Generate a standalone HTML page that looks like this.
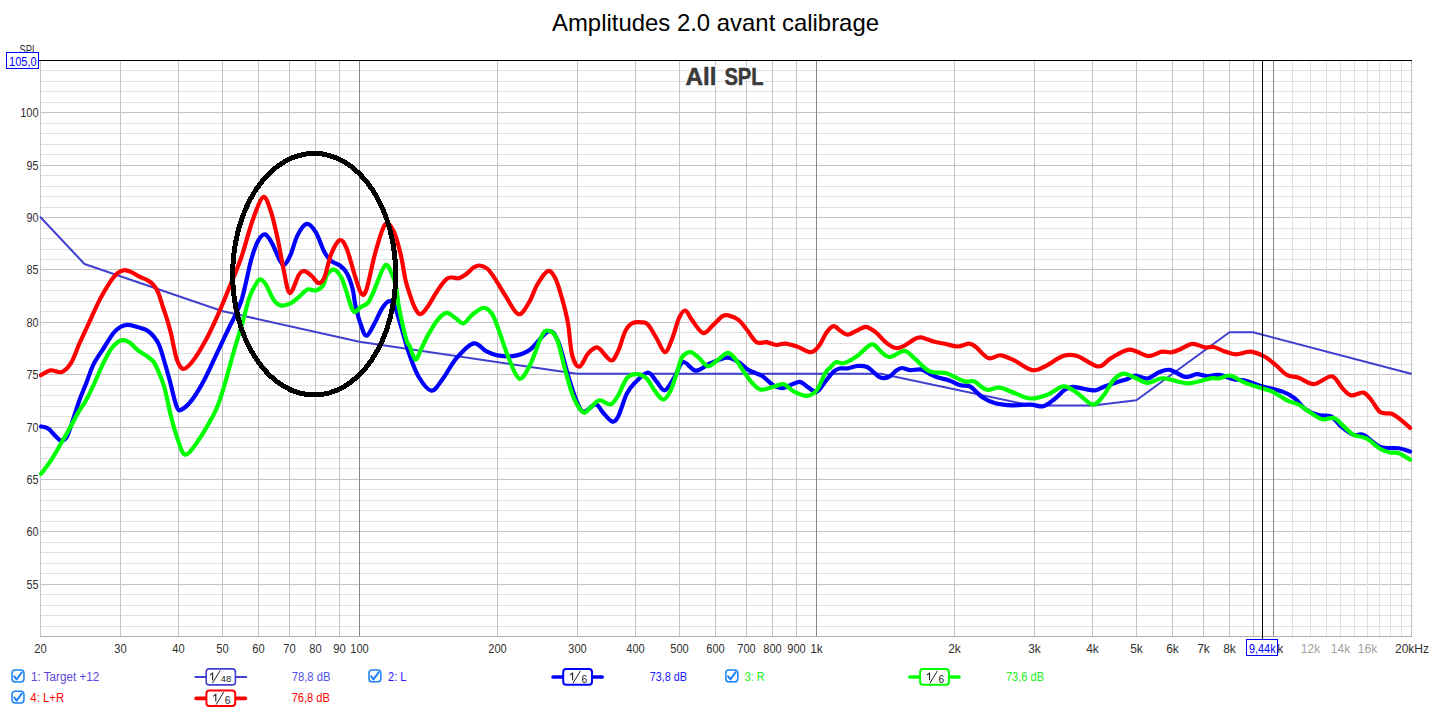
<!DOCTYPE html><html><head><meta charset="utf-8"><style>html,body{margin:0;padding:0;background:#fff;overflow:hidden}svg{display:block}text{font-family:"Liberation Sans",sans-serif}</style></head><body>
<svg width="1431" height="709" viewBox="0 0 1431 709">
<rect width="1431" height="709" fill="#fff"/>
<g stroke-width="1" fill="none" shape-rendering="crispEdges"><path d="M40,626.5H1411" stroke="#e0e0e0"/><path d="M40,615.5H1411" stroke="#e0e0e0"/><path d="M40,605.5H1411" stroke="#e0e0e0"/><path d="M40,594.5H1411" stroke="#e0e0e0"/><path d="M40,584.5H1411" stroke="#c4c4c4"/><path d="M40,573.5H1411" stroke="#e0e0e0"/><path d="M40,563.5H1411" stroke="#e0e0e0"/><path d="M40,552.5H1411" stroke="#e0e0e0"/><path d="M40,542.5H1411" stroke="#e0e0e0"/><path d="M40,531.5H1411" stroke="#c4c4c4"/><path d="M40,521.5H1411" stroke="#e0e0e0"/><path d="M40,510.5H1411" stroke="#e0e0e0"/><path d="M40,500.5H1411" stroke="#e0e0e0"/><path d="M40,489.5H1411" stroke="#e0e0e0"/><path d="M40,479.5H1411" stroke="#c4c4c4"/><path d="M40,468.5H1411" stroke="#e0e0e0"/><path d="M40,458.5H1411" stroke="#e0e0e0"/><path d="M40,447.5H1411" stroke="#e0e0e0"/><path d="M40,437.5H1411" stroke="#e0e0e0"/><path d="M40,427.5H1411" stroke="#c4c4c4"/><path d="M40,416.5H1411" stroke="#e0e0e0"/><path d="M40,406.5H1411" stroke="#e0e0e0"/><path d="M40,395.5H1411" stroke="#e0e0e0"/><path d="M40,385.5H1411" stroke="#e0e0e0"/><path d="M40,374.5H1411" stroke="#c4c4c4"/><path d="M40,364.5H1411" stroke="#e0e0e0"/><path d="M40,353.5H1411" stroke="#e0e0e0"/><path d="M40,343.5H1411" stroke="#e0e0e0"/><path d="M40,332.5H1411" stroke="#e0e0e0"/><path d="M40,322.5H1411" stroke="#c4c4c4"/><path d="M40,311.5H1411" stroke="#e0e0e0"/><path d="M40,301.5H1411" stroke="#e0e0e0"/><path d="M40,290.5H1411" stroke="#e0e0e0"/><path d="M40,280.5H1411" stroke="#e0e0e0"/><path d="M40,269.5H1411" stroke="#c4c4c4"/><path d="M40,259.5H1411" stroke="#e0e0e0"/><path d="M40,249.5H1411" stroke="#e0e0e0"/><path d="M40,238.5H1411" stroke="#e0e0e0"/><path d="M40,228.5H1411" stroke="#e0e0e0"/><path d="M40,217.5H1411" stroke="#c4c4c4"/><path d="M40,207.5H1411" stroke="#e0e0e0"/><path d="M40,196.5H1411" stroke="#e0e0e0"/><path d="M40,186.5H1411" stroke="#e0e0e0"/><path d="M40,175.5H1411" stroke="#e0e0e0"/><path d="M40,165.5H1411" stroke="#c4c4c4"/><path d="M40,154.5H1411" stroke="#e0e0e0"/><path d="M40,144.5H1411" stroke="#e0e0e0"/><path d="M40,133.5H1411" stroke="#e0e0e0"/><path d="M40,123.5H1411" stroke="#e0e0e0"/><path d="M40,112.5H1411" stroke="#c4c4c4"/><path d="M40,102.5H1411" stroke="#e0e0e0"/><path d="M40,91.5H1411" stroke="#e0e0e0"/><path d="M40,81.5H1411" stroke="#e0e0e0"/><path d="M40,70.5H1411" stroke="#e0e0e0"/></g>
<g stroke-width="1" fill="none" shape-rendering="crispEdges"><path d="M40.5,61V636" stroke="#c4c4c4"/><path d="M120.5,61V636" stroke="#c4c4c4"/><path d="M178.5,61V636" stroke="#c4c4c4"/><path d="M222.5,61V636" stroke="#c4c4c4"/><path d="M258.5,61V636" stroke="#c4c4c4"/><path d="M289.5,61V636" stroke="#c4c4c4"/><path d="M315.5,61V636" stroke="#c4c4c4"/><path d="M339.5,61V636" stroke="#c4c4c4"/><path d="M359.5,61V636" stroke="#888888"/><path d="M497.5,61V636" stroke="#c4c4c4"/><path d="M577.5,61V636" stroke="#c4c4c4"/><path d="M635.5,61V636" stroke="#c4c4c4"/><path d="M679.5,61V636" stroke="#c4c4c4"/><path d="M715.5,61V636" stroke="#c4c4c4"/><path d="M746.5,61V636" stroke="#c4c4c4"/><path d="M772.5,61V636" stroke="#c4c4c4"/><path d="M796.5,61V636" stroke="#c4c4c4"/><path d="M816.5,61V636" stroke="#888888"/><path d="M954.5,61V636" stroke="#c4c4c4"/><path d="M1034.5,61V636" stroke="#c4c4c4"/><path d="M1092.5,61V636" stroke="#c4c4c4"/><path d="M1136.5,61V636" stroke="#c4c4c4"/><path d="M1172.5,61V636" stroke="#c4c4c4"/><path d="M1203.5,61V636" stroke="#c4c4c4"/><path d="M1229.5,61V636" stroke="#c4c4c4"/><path d="M1253.5,61V636" stroke="#c4c4c4"/><path d="M1273.5,61V636" stroke="#888888"/><path d="M1292.5,61V636" stroke="#e0e0e0"/><path d="M1310.5,61V636" stroke="#e0e0e0"/><path d="M1326.5,61V636" stroke="#e0e0e0"/><path d="M1340.5,61V636" stroke="#e0e0e0"/><path d="M1354.5,61V636" stroke="#e0e0e0"/><path d="M1367.5,61V636" stroke="#e0e0e0"/><path d="M1379.5,61V636" stroke="#e0e0e0"/><path d="M1390.5,61V636" stroke="#e0e0e0"/><path d="M1401.5,61V636" stroke="#e0e0e0"/><path d="M1411.5,61V636" stroke="#c4c4c4"/></g>
<path d="M40,636.5H1412" stroke="#b0b0b0" stroke-width="1" shape-rendering="crispEdges"/>
<g fill="none" stroke-linejoin="round" stroke-linecap="round">
<path d="M40.5,217.3 L84.5,264.0 L222.0,311.0 L359.4,341.8 L577.0,373.8 L881.0,373.8 L1031.0,405.5 L1093.0,405.5 L1136.4,400.3 L1229.4,332.2 L1253.0,332.2 L1411.0,373.8" stroke="#4040d0" stroke-width="2"/>
<path d="M41.1,426.5 C41.9,426.7 44.6,427.0 46.0,427.5 C47.4,428.0 48.0,428.3 49.5,429.6 C51.0,430.9 53.2,433.7 55.0,435.5 C56.8,437.3 58.5,439.9 60.3,440.4 C62.1,440.9 64.1,440.7 65.9,438.3 C67.7,435.9 69.5,430.0 71.0,425.9 C72.5,421.8 73.6,417.8 75.0,413.5 C76.4,409.2 77.6,405.2 79.5,400.0 C81.4,394.8 84.2,388.4 86.5,382.5 C88.8,376.6 90.6,370.2 93.5,364.4 C96.4,358.6 100.8,352.7 104.1,347.5 C107.4,342.3 110.6,336.7 113.3,333.3 C116.0,329.9 117.9,328.4 120.3,327.0 C122.7,325.6 124.8,325.0 127.4,324.9 C130.0,324.8 132.7,325.7 135.9,326.6 C139.1,327.5 143.6,328.6 146.5,330.2 C149.4,331.8 151.4,333.7 153.5,336.2 C155.6,338.7 157.3,340.8 159.2,345.3 C161.1,349.8 163.1,357.2 164.8,363.0 C166.5,368.8 167.6,372.7 169.6,380.0 C171.6,387.3 174.7,401.8 176.7,406.7 C178.7,411.6 179.0,410.7 181.6,409.5 C184.2,408.3 188.3,404.7 192.2,399.6 C196.1,394.5 200.9,386.2 204.9,378.7 C208.9,371.2 212.2,363.2 216.2,354.8 C220.2,346.4 224.7,336.9 228.9,328.0 C233.1,319.1 237.5,312.4 241.2,301.2 C244.9,289.9 248.2,270.6 251.0,260.5 C253.8,250.4 255.8,245.2 258.1,240.8 C260.5,236.5 262.8,233.9 265.1,234.4 C267.5,234.9 269.9,239.5 272.2,243.6 C274.5,247.7 277.2,255.6 279.2,259.1 C281.2,262.6 282.3,265.5 284.2,264.8 C286.1,264.1 288.3,259.9 290.5,254.9 C292.7,249.9 294.9,240.3 297.6,235.1 C300.3,229.9 303.6,224.4 306.7,223.9 C309.8,223.4 312.9,227.6 315.9,232.3 C318.8,237.0 321.8,247.3 324.4,252.1 C327.0,256.9 328.8,259.0 331.4,261.2 C334.0,263.4 337.3,263.5 339.9,265.5 C342.5,267.5 344.8,269.3 346.9,273.2 C349.0,277.1 351.2,283.3 352.6,288.7 C354.0,294.1 354.0,299.3 355.4,305.4 C356.8,311.5 359.1,320.1 361.0,325.1 C362.9,330.2 364.3,336.2 366.7,335.7 C369.1,335.2 372.5,326.9 375.1,322.3 C377.7,317.7 379.8,311.7 382.2,308.2 C384.6,304.7 387.2,301.4 389.3,301.2 C391.4,301.0 392.8,302.1 394.9,306.8 C397.0,311.5 399.5,321.6 401.9,329.4 C404.2,337.1 406.2,345.4 409.0,353.3 C411.8,361.2 414.8,370.3 418.5,376.5 C422.2,382.7 427.2,390.1 431.2,390.6 C435.2,391.1 438.2,384.8 442.4,379.4 C446.6,374.0 451.3,364.2 456.5,358.2 C461.7,352.2 468.6,344.6 473.5,343.4 C478.4,342.2 482.2,349.2 486.2,351.2 C490.2,353.2 492.9,354.6 497.4,355.4 C501.9,356.2 507.6,357.1 513.0,356.1 C518.4,355.2 524.0,353.8 529.9,349.7 C535.8,345.6 543.5,332.8 548.2,331.4 C552.9,330.0 554.8,334.0 558.1,341.3 C561.4,348.6 565.0,365.2 568.0,375.1 C571.0,385.0 573.8,394.4 576.4,400.5 C579.0,406.6 580.3,411.2 583.5,411.8 C586.7,412.4 592.4,404.3 595.6,404.4 C598.8,404.5 600.0,409.4 602.7,412.2 C605.4,415.0 609.3,420.7 611.9,421.4 C614.5,422.1 615.7,421.0 618.2,416.4 C620.7,411.8 623.9,399.5 626.7,393.9 C629.5,388.3 631.6,386.1 635.1,382.6 C638.6,379.1 644.3,372.9 647.8,372.7 C651.3,372.5 653.5,378.3 656.3,381.2 C659.1,384.1 661.8,391.0 664.8,390.3 C667.8,389.6 671.5,381.6 674.6,376.9 C677.7,372.2 679.6,363.2 683.1,362.1 C686.6,361.1 691.3,370.4 695.8,370.6 C700.3,370.8 704.7,365.6 709.9,363.5 C715.1,361.4 722.2,358.0 726.9,357.7 C731.6,357.4 734.7,359.9 738.2,361.9 C741.7,363.9 744.1,367.3 748.1,369.7 C752.1,372.1 758.0,373.4 762.2,376.0 C766.4,378.6 770.1,383.4 773.4,385.4 C776.7,387.4 779.3,388.1 781.8,388.2 C784.3,388.3 785.5,387.1 788.5,386.0 C791.5,384.9 796.4,381.6 799.7,381.8 C803.0,382.0 805.4,385.8 808.2,387.4 C811.0,389.0 813.9,392.6 816.7,391.7 C819.5,390.8 822.2,385.2 825.1,381.8 C828.0,378.4 831.6,373.4 834.2,371.2 C836.8,369.0 838.3,368.9 840.5,368.4 C842.7,367.9 844.6,368.8 847.5,368.4 C850.4,368.0 854.8,366.1 858.0,365.9 C861.2,365.7 864.5,366.0 867.0,367.0 C869.5,368.0 871.3,370.3 873.3,371.9 C875.3,373.5 877.1,375.8 878.9,376.8 C880.6,377.9 881.9,378.3 883.8,378.2 C885.7,378.1 888.0,377.4 890.1,376.1 C892.2,374.8 894.4,371.9 896.4,370.5 C898.4,369.1 899.7,368.1 902.0,368.0 C904.3,367.9 907.3,369.9 910.4,370.1 C913.5,370.3 917.5,368.8 920.8,369.4 C924.1,370.0 927.1,372.6 930.0,374.0 C932.9,375.4 934.8,376.5 938.0,377.6 C941.2,378.7 945.5,379.1 949.3,380.4 C953.0,381.7 957.0,384.2 960.5,385.3 C964.0,386.4 966.7,384.6 970.4,386.7 C974.1,388.8 978.5,394.9 982.7,397.6 C986.9,400.4 990.5,401.9 995.4,403.2 C1000.3,404.5 1006.4,405.1 1012.3,405.3 C1018.2,405.5 1025.4,404.4 1030.6,404.6 C1035.8,404.8 1039.3,407.2 1043.3,406.3 C1047.3,405.4 1051.0,401.8 1054.6,399.0 C1058.2,396.2 1061.8,391.8 1064.8,389.8 C1067.8,387.8 1069.5,387.0 1072.6,386.8 C1075.7,386.6 1079.7,388.2 1083.4,388.8 C1087.2,389.4 1091.7,390.6 1095.1,390.3 C1098.5,390.0 1100.2,388.2 1103.9,386.8 C1107.7,385.4 1113.7,383.3 1117.6,382.0 C1121.5,380.7 1124.5,380.1 1127.4,379.0 C1130.3,377.9 1131.6,375.8 1135.0,375.7 C1138.4,375.6 1143.7,379.1 1147.7,378.5 C1151.7,377.9 1155.3,373.6 1159.0,372.2 C1162.7,370.8 1165.5,369.1 1169.9,369.9 C1174.3,370.7 1180.9,376.3 1185.4,377.0 C1189.9,377.7 1193.2,374.4 1196.7,374.2 C1200.2,374.0 1202.8,375.9 1206.5,376.0 C1210.2,376.1 1214.7,374.4 1219.2,374.9 C1223.7,375.4 1229.0,378.2 1233.3,379.1 C1237.6,380.1 1240.3,379.4 1245.1,380.6 C1249.9,381.8 1255.7,384.3 1262.0,386.2 C1268.3,388.1 1277.8,389.9 1283.2,391.9 C1288.6,393.9 1290.7,395.3 1294.5,398.2 C1298.3,401.1 1301.8,406.7 1305.8,409.5 C1309.8,412.3 1314.2,413.9 1318.4,415.1 C1322.6,416.3 1327.3,414.6 1331.1,416.5 C1334.9,418.4 1337.2,423.3 1341.0,426.4 C1344.8,429.5 1349.9,433.5 1353.7,434.9 C1357.5,436.3 1359.1,432.9 1363.6,434.9 C1368.1,436.9 1374.6,444.7 1380.5,446.9 C1386.4,449.1 1393.9,447.5 1398.8,448.3 C1403.7,449.1 1408.2,451.0 1410.1,451.5" stroke="#0000ff" stroke-width="4.2"/>
<path d="M41.1,473.8 C42.8,471.5 47.9,465.0 51.3,459.8 C54.7,454.6 58.2,448.2 61.4,442.8 C64.6,437.4 67.6,432.2 70.4,427.1 C73.2,422.0 75.7,416.9 78.3,412.4 C80.9,407.9 83.5,404.9 86.2,400.0 C88.9,395.1 91.8,388.9 94.5,383.0 C97.2,377.1 99.9,370.1 102.7,364.4 C105.5,358.7 108.6,352.7 111.2,348.9 C113.8,345.1 116.2,343.3 118.2,341.8 C120.2,340.3 121.3,340.0 123.2,340.1 C125.1,340.2 127.0,340.8 129.5,342.5 C132.0,344.2 135.2,348.1 138.0,350.3 C140.8,352.5 143.9,354.0 146.5,355.9 C149.1,357.8 151.6,359.2 153.5,361.6 C155.4,364.0 156.7,367.6 158.0,370.5 C159.3,373.4 160.4,375.8 161.6,379.2 C162.8,382.6 163.8,385.0 165.4,391.2 C167.0,397.4 168.9,408.3 171.0,416.5 C173.1,424.7 175.8,434.1 178.1,440.5 C180.4,446.9 182.0,454.1 185.1,454.6 C188.2,455.1 191.7,449.9 196.4,443.3 C201.1,436.7 209.5,422.5 213.4,415.1 C217.3,407.8 217.8,405.4 220.0,399.2 C222.2,393.0 224.2,386.1 226.5,378.0 C228.8,369.9 231.4,359.8 234.1,350.5 C236.8,341.2 240.0,331.2 242.6,322.3 C245.2,313.4 247.2,303.5 249.6,296.9 C251.9,290.3 254.8,285.7 256.7,282.8 C258.6,279.9 259.3,279.0 260.9,279.5 C262.5,280.0 264.4,282.2 266.5,285.6 C268.6,289.0 271.2,296.4 273.6,299.7 C276.0,303.0 277.8,304.8 280.6,305.4 C283.4,306.0 287.4,304.7 290.5,303.3 C293.6,301.9 296.2,299.2 299.0,296.9 C301.8,294.6 304.6,290.6 307.4,289.5 C310.2,288.4 313.3,291.1 315.9,290.5 C318.5,289.9 321.1,288.2 323.0,285.6 C324.9,283.0 325.3,277.2 327.2,274.6 C329.1,272.0 331.8,269.2 334.2,269.7 C336.6,270.2 339.4,274.2 341.3,277.4 C343.2,280.6 343.5,283.1 345.5,288.7 C347.5,294.3 350.7,308.0 353.3,311.0 C355.9,314.0 358.5,308.2 361.0,306.8 C363.5,305.4 366.0,305.2 368.1,302.6 C370.2,300.0 370.9,297.5 373.7,291.3 C376.5,285.1 381.9,268.3 385.0,265.5 C388.1,262.7 390.2,270.7 392.1,274.6 C394.0,278.5 395.1,283.1 396.3,288.7 C397.5,294.3 397.5,299.8 399.1,308.2 C400.8,316.6 404.4,332.8 406.2,339.2 C408.0,345.6 408.4,343.5 410.0,346.9 C411.6,350.3 413.6,359.3 415.5,359.6 C417.4,359.9 419.2,352.9 421.3,348.7 C423.4,344.5 425.5,339.5 428.3,334.6 C431.1,329.7 435.1,322.7 438.2,319.1 C441.3,315.5 443.9,313.0 446.7,312.8 C449.5,312.6 452.3,315.9 455.1,317.7 C457.9,319.4 460.8,323.8 463.6,323.3 C466.4,322.8 468.8,317.5 472.1,314.9 C475.4,312.3 480.0,308.0 483.3,307.8 C486.6,307.6 489.2,309.7 491.8,313.5 C494.4,317.3 496.1,322.9 498.9,330.4 C501.7,337.8 505.3,350.1 508.7,358.2 C512.1,366.2 515.8,377.5 519.3,378.7 C522.8,379.9 526.2,372.2 529.9,365.3 C533.5,358.4 538.3,342.9 541.2,337.1 C544.1,331.3 544.9,330.3 547.5,330.5 C550.1,330.7 553.8,332.0 556.7,338.5 C559.6,345.0 562.3,359.6 565.1,369.5 C567.9,379.4 570.5,390.5 573.6,397.7 C576.7,404.9 580.8,410.8 583.5,412.5 C586.2,414.2 587.3,410.0 590.0,408.0 C592.7,406.0 596.1,400.9 599.5,400.3 C602.9,399.7 607.4,405.2 610.5,404.4 C613.6,403.6 615.5,399.6 618.2,395.3 C620.9,391.0 623.7,381.8 626.7,378.3 C629.8,374.8 633.2,374.1 636.5,374.1 C639.8,374.1 643.3,375.5 646.4,378.3 C649.5,381.1 652.1,387.5 654.9,391.0 C657.7,394.5 660.7,399.5 663.3,399.5 C665.9,399.5 668.0,395.7 670.4,391.0 C672.8,386.3 675.5,376.9 677.4,371.3 C679.3,365.8 679.6,360.9 681.8,357.7 C683.9,354.5 687.5,352.1 690.3,352.1 C693.1,352.1 695.8,355.4 698.7,357.7 C701.6,360.0 704.8,365.7 707.9,366.2 C711.0,366.7 713.8,362.7 717.1,360.5 C720.4,358.3 724.6,353.0 727.6,352.8 C730.6,352.6 732.7,355.9 735.4,359.1 C738.1,362.3 741.1,367.8 743.9,371.8 C746.7,375.8 749.5,380.1 752.3,383.1 C755.1,386.1 757.2,389.0 760.7,389.6 C764.2,390.2 769.5,387.7 773.4,386.8 C777.2,385.9 780.3,383.4 783.8,384.2 C787.2,385.0 790.3,389.8 794.1,391.7 C797.9,393.6 803.0,396.1 806.8,395.9 C810.6,395.7 813.7,394.1 816.7,390.3 C819.8,386.5 822.9,377.1 825.1,373.3 C827.3,369.5 828.1,369.6 830.0,367.7 C831.9,365.8 834.0,362.9 836.3,362.1 C838.6,361.3 840.5,364.2 844.0,363.1 C847.5,362.0 853.0,358.8 857.6,355.7 C862.2,352.6 867.7,345.0 871.7,344.4 C875.7,343.8 878.6,350.1 881.6,352.2 C884.6,354.3 886.2,357.3 890.0,357.1 C893.8,356.9 900.1,350.7 904.1,350.8 C908.1,350.9 909.8,354.4 914.0,357.8 C918.2,361.2 924.1,368.6 929.5,371.2 C934.9,373.8 940.8,371.6 946.4,373.3 C952.0,375.0 959.2,379.8 963.4,381.1 C967.6,382.4 969.8,380.9 971.8,381.1 C973.8,381.3 973.1,380.7 975.6,382.1 C978.1,383.6 982.9,388.9 986.9,389.8 C990.9,390.7 994.9,387.1 999.6,387.7 C1004.3,388.3 1009.9,391.5 1015.1,393.3 C1020.3,395.1 1025.2,398.3 1030.6,398.5 C1036.0,398.7 1041.9,396.7 1047.4,394.7 C1052.9,392.7 1058.6,386.7 1063.5,386.4 C1068.4,386.1 1072.0,389.7 1076.8,392.7 C1081.6,395.7 1088.0,404.0 1092.5,404.5 C1097.0,405.0 1099.9,399.7 1103.5,395.5 C1107.1,391.3 1110.6,383.1 1114.0,379.5 C1117.4,375.9 1120.2,373.9 1123.7,373.6 C1127.2,373.3 1131.0,376.3 1135.0,377.8 C1139.0,379.3 1143.5,382.7 1147.7,382.8 C1151.9,382.9 1156.9,379.1 1160.4,378.5 C1163.9,377.9 1163.9,378.3 1168.5,379.1 C1173.1,379.9 1181.2,383.4 1188.2,383.3 C1195.2,383.2 1205.6,379.2 1210.8,378.4 C1216.0,377.6 1215.9,378.9 1219.2,378.4 C1222.5,377.9 1226.3,374.9 1230.5,375.6 C1234.7,376.3 1239.4,380.5 1244.6,382.6 C1249.8,384.7 1256.9,386.8 1261.6,388.3 C1266.3,389.8 1268.6,389.8 1272.8,391.8 C1277.0,393.8 1282.6,398.2 1286.9,400.3 C1291.2,402.4 1294.7,402.5 1298.5,404.5 C1302.3,406.5 1306.0,409.8 1310.0,412.3 C1314.0,414.8 1318.7,418.4 1322.7,419.4 C1326.7,420.3 1330.5,416.8 1334.0,418.0 C1337.5,419.2 1340.5,423.6 1343.8,426.4 C1347.1,429.2 1349.9,432.9 1353.7,434.9 C1357.5,436.9 1361.9,436.0 1366.4,438.4 C1370.9,440.8 1376.5,446.6 1380.5,449.0 C1384.5,451.4 1387.4,451.8 1390.4,452.5 C1393.5,453.2 1395.5,452.0 1398.8,453.2 C1402.1,454.4 1408.2,458.5 1410.1,459.6" stroke="#00ff00" stroke-width="4.2"/>
<path d="M41.0,375.2 C42.6,374.4 47.0,370.8 50.5,370.3 C54.0,369.8 58.3,373.2 61.7,372.0 C65.1,370.8 68.0,367.9 70.9,363.2 C73.9,358.4 76.4,350.3 79.4,343.5 C82.5,336.7 85.8,329.7 89.2,322.3 C92.6,314.9 96.5,306.0 99.9,299.4 C103.3,292.8 106.8,287.0 109.7,282.6 C112.7,278.2 115.1,275.3 117.6,273.2 C120.1,271.1 122.1,270.3 124.6,270.2 C127.1,270.1 129.9,271.6 132.4,272.7 C134.9,273.8 136.9,275.5 139.4,276.7 C141.9,277.9 145.0,278.8 147.3,280.1 C149.6,281.4 151.4,282.6 153.2,284.6 C155.0,286.7 156.5,288.6 158.1,292.4 C159.7,296.2 161.5,302.9 163.0,307.3 C164.5,311.8 165.7,314.7 167.0,319.1 C168.3,323.5 169.4,327.0 171.0,333.6 C172.6,340.2 174.7,353.1 176.7,359.0 C178.7,364.9 180.4,368.4 183.0,368.9 C185.6,369.4 188.3,366.8 192.2,361.8 C196.1,356.9 201.8,347.4 206.3,339.2 C210.8,331.0 215.3,320.7 219.0,312.4 C222.7,304.1 224.8,298.6 228.5,289.5 C232.2,280.4 237.2,269.1 241.2,257.7 C245.2,246.3 248.8,231.1 252.4,221.0 C256.0,210.9 259.9,198.7 263.0,197.1 C266.1,195.5 268.3,204.1 270.8,211.2 C273.3,218.2 275.7,229.8 277.8,239.4 C279.9,249.0 281.5,260.1 283.5,269.0 C285.5,277.9 287.2,292.1 289.8,293.0 C292.4,293.9 296.5,278.2 299.0,274.6 C301.5,271.0 302.5,270.9 304.6,271.1 C306.7,271.3 309.4,274.0 311.7,276.0 C314.0,278.0 316.6,282.9 318.7,283.1 C320.8,283.3 322.3,282.3 324.4,277.4 C326.5,272.5 328.8,259.7 331.4,253.5 C334.0,247.3 337.3,240.8 339.9,240.1 C342.5,239.4 344.3,243.0 346.9,249.2 C349.5,255.4 352.9,269.9 355.4,277.4 C357.9,284.9 359.8,292.3 361.7,294.1 C363.6,295.9 364.7,294.8 366.9,288.0 C369.1,281.2 372.1,264.1 375.1,253.5 C378.1,242.9 381.9,228.4 385.0,224.6 C388.1,220.8 390.9,226.1 393.5,230.9 C396.1,235.7 398.5,245.3 400.5,253.5 C402.5,261.7 403.9,273.1 405.5,280.0 C407.1,286.9 408.6,290.6 410.0,295.0 C411.4,299.4 412.6,303.2 414.2,306.4 C415.8,309.6 417.8,314.0 419.9,314.2 C422.0,314.4 423.8,311.9 426.9,307.8 C429.9,303.7 434.9,294.3 438.2,289.5 C441.5,284.7 444.3,280.9 446.7,278.9 C449.1,276.9 450.3,277.6 452.3,277.5 C454.3,277.4 456.4,278.8 458.7,278.2 C461.0,277.6 463.9,275.8 466.4,274.0 C468.9,272.2 471.3,269.0 473.5,267.6 C475.7,266.2 477.4,265.3 479.8,265.5 C482.2,265.7 485.1,266.9 487.6,269.0 C490.1,271.1 491.6,273.6 494.6,278.2 C497.7,282.8 501.9,290.5 505.9,296.5 C509.9,302.5 514.6,313.5 518.6,314.2 C522.6,314.9 526.9,305.6 529.9,300.8 C532.9,296.0 534.0,290.2 536.9,285.3 C539.8,280.4 544.4,272.4 547.5,271.2 C550.6,270.0 552.8,273.5 555.3,278.2 C557.8,282.9 560.2,291.9 562.3,299.4 C564.4,306.9 566.4,314.0 568.0,323.3 C569.6,332.6 570.3,348.2 572.2,355.4 C574.1,362.6 576.7,366.9 579.3,366.7 C581.9,366.5 585.0,357.2 587.7,354.0 C590.4,350.8 593.5,348.4 595.5,347.6 C597.5,346.8 597.4,347.1 600.0,349.2 C602.6,351.3 608.2,360.3 611.3,360.5 C614.3,360.7 615.9,355.5 618.3,350.6 C620.6,345.7 623.0,335.5 625.4,330.9 C627.8,326.3 629.6,324.5 632.4,323.1 C635.2,321.7 639.7,322.1 642.3,322.4 C644.9,322.6 645.6,322.0 648.0,324.6 C650.4,327.2 653.6,333.4 656.4,338.0 C659.2,342.6 662.3,351.9 664.9,352.1 C667.5,352.3 669.5,345.0 671.9,339.4 C674.2,333.8 676.8,323.0 679.0,318.2 C681.2,313.4 683.2,310.3 685.3,310.5 C687.4,310.7 688.8,315.9 691.7,319.6 C694.7,323.4 699.5,332.1 703.0,333.0 C706.5,333.9 709.5,328.1 712.8,325.3 C716.1,322.5 720.1,317.8 722.7,316.1 C725.3,314.5 725.7,314.8 728.3,315.4 C730.9,316.0 735.1,317.2 738.2,319.6 C741.3,322.0 743.6,325.7 746.7,329.5 C749.8,333.3 753.3,340.1 756.6,342.2 C759.9,344.3 763.1,341.7 766.4,342.2 C769.7,342.7 773.2,344.8 776.3,345.0 C779.4,345.2 781.4,343.4 784.8,343.6 C788.2,343.9 792.5,345.1 796.9,346.5 C801.3,347.9 807.2,352.4 811.0,352.2 C814.8,352.0 816.9,348.4 819.5,345.1 C822.1,341.8 824.1,335.6 826.5,332.4 C828.9,329.2 831.2,326.3 833.6,326.1 C836.0,325.9 838.2,329.6 840.6,331.0 C843.0,332.4 844.9,334.7 847.7,334.6 C850.5,334.5 854.6,331.6 857.6,330.3 C860.6,329.0 863.0,326.5 866.0,326.8 C869.0,327.1 872.6,329.8 875.9,332.4 C879.2,335.0 882.5,339.7 885.8,342.3 C889.1,344.9 892.7,347.4 895.7,348.0 C898.8,348.6 901.1,347.2 904.1,345.8 C907.1,344.4 911.2,340.9 914.0,339.5 C916.8,338.1 917.7,337.0 921.0,337.4 C924.3,337.8 929.7,340.6 933.7,341.6 C937.7,342.7 941.0,342.9 945.0,343.7 C949.0,344.5 953.7,346.5 957.7,346.5 C961.7,346.5 966.0,343.6 969.0,343.7 C972.0,343.8 972.4,344.4 975.6,346.8 C978.8,349.2 984.1,356.7 988.3,358.1 C992.5,359.5 996.5,354.8 1001.0,355.3 C1005.5,355.8 1009.9,358.4 1015.1,360.9 C1020.3,363.4 1027.1,369.2 1032.1,370.1 C1037.0,371.0 1039.6,368.9 1044.8,366.5 C1050.0,364.1 1057.7,357.8 1063.1,356.0 C1068.5,354.2 1071.3,354.2 1077.2,356.0 C1083.1,357.8 1092.7,366.1 1098.3,366.5 C1103.9,366.9 1105.8,360.9 1111.0,358.1 C1116.2,355.3 1123.3,350.0 1129.4,349.6 C1135.5,349.2 1142.3,355.6 1147.7,356.0 C1153.1,356.4 1157.9,352.3 1161.8,351.7 C1165.7,351.1 1168.3,352.7 1171.3,352.3 C1174.3,351.9 1176.2,350.9 1179.7,349.5 C1183.2,348.1 1188.2,344.2 1192.4,343.9 C1196.6,343.5 1201.6,346.9 1205.1,347.4 C1208.6,347.9 1210.5,346.4 1213.6,347.0 C1216.7,347.6 1219.7,349.7 1223.5,350.9 C1227.3,352.1 1231.7,354.3 1236.2,354.4 C1240.7,354.5 1245.6,351.2 1250.3,351.6 C1255.0,352.0 1260.2,354.3 1264.4,356.5 C1268.6,358.7 1272.0,361.9 1275.7,365.0 C1279.5,368.1 1283.1,372.8 1286.9,374.9 C1290.7,377.0 1294.2,376.3 1298.7,377.8 C1303.2,379.3 1308.5,384.4 1314.0,384.1 C1319.5,383.9 1327.2,375.6 1331.9,376.3 C1336.6,377.0 1339.2,385.1 1342.4,388.3 C1345.6,391.5 1347.8,394.7 1351.3,395.4 C1354.8,396.1 1360.1,391.7 1363.6,392.6 C1367.0,393.5 1369.2,397.7 1372.0,401.0 C1374.8,404.3 1377.2,410.2 1380.5,412.3 C1383.8,414.4 1388.5,412.5 1391.8,413.7 C1395.1,414.9 1397.2,417.0 1400.3,419.4 C1403.3,421.8 1408.5,426.4 1410.1,427.8" stroke="#ff0000" stroke-width="4.2"/>
</g>
<path d="M39,60.5H1412" stroke="#000" stroke-width="1" shape-rendering="crispEdges"/>
<path d="M1262.5,60V639" stroke="#000" stroke-width="1" shape-rendering="crispEdges"/>
<ellipse cx="314.2" cy="274.2" rx="81.5" ry="120.8" fill="none" stroke="#000" stroke-width="5" shape-rendering="crispEdges"/>
<text x="552" y="31.4" font-size="24" fill="#000" textLength="327" lengthAdjust="spacingAndGlyphs">Amplitudes 2.0 avant calibrage</text>
<text x="685.6" y="84.8" font-size="23.5" font-weight="bold" fill="#fff" stroke="#fff" stroke-width="3.2" stroke-linejoin="round" textLength="31.0" lengthAdjust="spacingAndGlyphs">All</text>
<text x="685.6" y="84.8" font-size="23.5" font-weight="bold" fill="#3a3a3a" stroke="#3a3a3a" stroke-width="0.5" textLength="31.0" lengthAdjust="spacingAndGlyphs">All</text>
<text x="724.4" y="84.8" font-size="23.5" font-weight="bold" fill="#fff" stroke="#fff" stroke-width="3.2" stroke-linejoin="round" textLength="39.2" lengthAdjust="spacingAndGlyphs">SPL</text>
<text x="724.4" y="84.8" font-size="23.5" font-weight="bold" fill="#3a3a3a" stroke="#3a3a3a" stroke-width="0.5" textLength="39.2" lengthAdjust="spacingAndGlyphs">SPL</text>
<g font-size="12" fill="#303030"><text x="38.6" y="116.8" text-anchor="end" textLength="18.4" lengthAdjust="spacingAndGlyphs">100</text><text x="38.6" y="169.8" text-anchor="end" textLength="12.0" lengthAdjust="spacingAndGlyphs">95</text><text x="38.6" y="221.8" text-anchor="end" textLength="12.0" lengthAdjust="spacingAndGlyphs">90</text><text x="38.6" y="273.8" text-anchor="end" textLength="12.0" lengthAdjust="spacingAndGlyphs">85</text><text x="38.6" y="326.8" text-anchor="end" textLength="12.0" lengthAdjust="spacingAndGlyphs">80</text><text x="38.6" y="378.8" text-anchor="end" textLength="12.0" lengthAdjust="spacingAndGlyphs">75</text><text x="38.6" y="431.8" text-anchor="end" textLength="12.0" lengthAdjust="spacingAndGlyphs">70</text><text x="38.6" y="483.8" text-anchor="end" textLength="12.0" lengthAdjust="spacingAndGlyphs">65</text><text x="38.6" y="535.8" text-anchor="end" textLength="12.0" lengthAdjust="spacingAndGlyphs">60</text><text x="38.6" y="588.8" text-anchor="end" textLength="12.0" lengthAdjust="spacingAndGlyphs">55</text></g>
<text x="19.6" y="54" font-size="12" fill="#303030" textLength="17.6" lengthAdjust="spacingAndGlyphs">SPL</text>
<rect x="6.5" y="52.5" width="32" height="16" fill="#fff" stroke="#0000ff" stroke-width="1" shape-rendering="crispEdges"/>
<text x="9.1" y="65.8" font-size="12" fill="#0000ff" textLength="27.6" lengthAdjust="spacingAndGlyphs">105,0</text>
<g font-size="12" fill="#303030" text-anchor="middle"><text x="40.5" y="653" textLength="12.4" lengthAdjust="spacingAndGlyphs">20</text><text x="120.5" y="653" textLength="12.4" lengthAdjust="spacingAndGlyphs">30</text><text x="178.5" y="653" textLength="12.4" lengthAdjust="spacingAndGlyphs">40</text><text x="222.5" y="653" textLength="12.4" lengthAdjust="spacingAndGlyphs">50</text><text x="258.5" y="653" textLength="12.4" lengthAdjust="spacingAndGlyphs">60</text><text x="289.5" y="653" textLength="12.4" lengthAdjust="spacingAndGlyphs">70</text><text x="315.5" y="653" textLength="12.4" lengthAdjust="spacingAndGlyphs">80</text><text x="339.5" y="653" textLength="12.4" lengthAdjust="spacingAndGlyphs">90</text><text x="359.5" y="653" textLength="18.4" lengthAdjust="spacingAndGlyphs">100</text><text x="497.5" y="653" textLength="18.4" lengthAdjust="spacingAndGlyphs">200</text><text x="577.5" y="653" textLength="18.4" lengthAdjust="spacingAndGlyphs">300</text><text x="635.5" y="653" textLength="18.4" lengthAdjust="spacingAndGlyphs">400</text><text x="679.5" y="653" textLength="18.4" lengthAdjust="spacingAndGlyphs">500</text><text x="715.5" y="653" textLength="18.4" lengthAdjust="spacingAndGlyphs">600</text><text x="746.5" y="653" textLength="18.4" lengthAdjust="spacingAndGlyphs">700</text><text x="772.5" y="653" textLength="18.4" lengthAdjust="spacingAndGlyphs">800</text><text x="796.5" y="653" textLength="18.4" lengthAdjust="spacingAndGlyphs">900</text><text x="816.5" y="653">1k</text><text x="954.5" y="653">2k</text><text x="1034.5" y="653">3k</text><text x="1092.5" y="653">4k</text><text x="1136.5" y="653">5k</text><text x="1172.5" y="653">6k</text><text x="1203.5" y="653">7k</text><text x="1229.5" y="653">8k</text><text x="1273.5" y="653">10k</text></g>
<g font-size="12" fill="#a0a0a0" text-anchor="middle"><text x="1310.5" y="653">12k</text><text x="1340.5" y="653">14k</text><text x="1367.5" y="653">16k</text></g>
<text x="1412" y="653" font-size="12" fill="#303030" text-anchor="middle">20kHz</text>
<rect x="1246.5" y="639.5" width="31" height="16" fill="#fff" stroke="#0000ff" stroke-width="1" shape-rendering="crispEdges"/>
<text x="1249" y="652.8" font-size="12" fill="#0000ff" textLength="26.6" lengthAdjust="spacingAndGlyphs">9,44k</text>
<rect x="12.05" y="670.05" width="11.9" height="11.9" rx="3.2" fill="#fff" stroke="#1c80f4" stroke-width="1.5"/><path d="M14.3,676.4 L16.6,679.5 L21.7,672.5" fill="none" stroke="#1c80f4" stroke-width="2" stroke-linecap="round" stroke-linejoin="round"/>
<rect x="12.05" y="691.15" width="11.9" height="11.9" rx="3.2" fill="#fff" stroke="#1c80f4" stroke-width="1.5"/><path d="M14.3,697.5 L16.6,700.6 L21.7,693.6" fill="none" stroke="#1c80f4" stroke-width="2" stroke-linecap="round" stroke-linejoin="round"/>
<rect x="368.95" y="669.95" width="11.9" height="11.9" rx="3.2" fill="#fff" stroke="#1c80f4" stroke-width="1.5"/><path d="M371.2,676.3 L373.5,679.4 L378.6,672.4" fill="none" stroke="#1c80f4" stroke-width="2" stroke-linecap="round" stroke-linejoin="round"/>
<rect x="725.85" y="669.95" width="11.9" height="11.9" rx="3.2" fill="#fff" stroke="#1c80f4" stroke-width="1.5"/><path d="M728.1,676.3 L730.4,679.4 L735.5,672.4" fill="none" stroke="#1c80f4" stroke-width="2" stroke-linecap="round" stroke-linejoin="round"/>
<g font-size="12" lengthAdjust="spacingAndGlyphs">
<text x="31.0" y="680.8" fill="#5a46dc" textLength="68.3" lengthAdjust="spacingAndGlyphs">1: Target +12</text>
<text x="30.3" y="701.9" fill="#ff0000" textLength="34.0" lengthAdjust="spacingAndGlyphs">4: L+R</text>
<text x="388.0" y="680.8" fill="#3010ff" textLength="18.4" lengthAdjust="spacingAndGlyphs">2: L</text>
<text x="744.8" y="680.8" fill="#22ee22" textLength="19.9" lengthAdjust="spacingAndGlyphs">3: R</text>
<text x="291.7" y="680.8" fill="#5050e8" textLength="38.8" lengthAdjust="spacingAndGlyphs">78,8 dB</text>
<text x="291.7" y="701.9" fill="#ff0000" textLength="38.2" lengthAdjust="spacingAndGlyphs">76,8 dB</text>
<text x="649.7" y="680.8" fill="#2020ff" textLength="37.3" lengthAdjust="spacingAndGlyphs">73,8 dB</text>
<text x="1005.9" y="680.8" fill="#22ee22" textLength="38.2" lengthAdjust="spacingAndGlyphs">73,6 dB</text>
</g>
<path d="M195.3,677.0H246.3" stroke="#4040d0" stroke-width="1.8" stroke-linecap="round"/><rect x="206.20" y="668.90" width="29.20" height="16.00" rx="3" fill="#fff" stroke="#4040d0" stroke-width="1.6"/><path d="M210.0,675.1L212.6,673.1V680.2" fill="none" stroke="#222" stroke-width="1.1"/><path d="M212.5,683.0L220.2,670.5" stroke="#222" stroke-width="1"/><text x="220.8" y="682.2" font-size="8.3" fill="#222" textLength="10.2" lengthAdjust="spacingAndGlyphs">48</text>
<path d="M196.2,698.3H245.3" stroke="#ff0000" stroke-width="3.7" stroke-linecap="round"/><rect x="206.40" y="690.40" width="28.80" height="15.60" rx="3" fill="#fff" stroke="#ff0000" stroke-width="2.0"/><path d="M213.2,696.4L215.8,694.4V701.5" fill="none" stroke="#222" stroke-width="1.1"/><path d="M216.1,704.6L223.7,692.1" stroke="#222" stroke-width="1"/><text x="224.7" y="704.3" font-size="10.2" fill="#222">6</text>
<path d="M553.1,677.0H602.1" stroke="#0000ff" stroke-width="3.7" stroke-linecap="round"/><rect x="563.20" y="669.10" width="28.80" height="15.60" rx="3" fill="#fff" stroke="#0000ff" stroke-width="2.0"/><path d="M570.0,675.1L572.6,673.1V680.2" fill="none" stroke="#222" stroke-width="1.1"/><path d="M572.9,683.3L580.5,670.8" stroke="#222" stroke-width="1"/><text x="581.5" y="683.0" font-size="10.2" fill="#222">6</text>
<path d="M910.0,677.0H959.0" stroke="#00ff00" stroke-width="3.7" stroke-linecap="round"/><rect x="920.10" y="669.10" width="28.80" height="15.60" rx="3" fill="#fff" stroke="#00ff00" stroke-width="2.0"/><path d="M926.9,675.1L929.5,673.1V680.2" fill="none" stroke="#222" stroke-width="1.1"/><path d="M929.8,683.3L937.4,670.8" stroke="#222" stroke-width="1"/><text x="938.4" y="683.0" font-size="10.2" fill="#222">6</text>
</svg></body></html>
